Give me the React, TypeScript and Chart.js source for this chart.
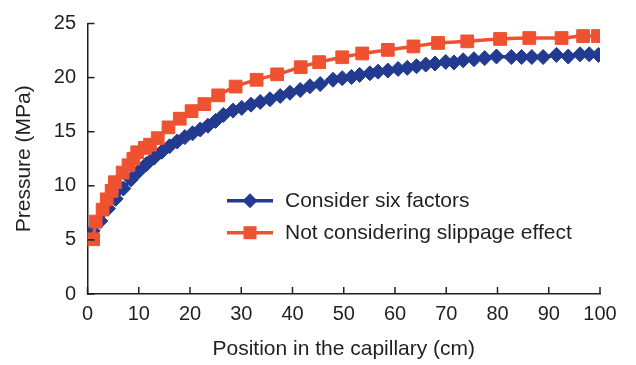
import { useEffect, useRef } from "react";
import { Chart, registerables } from "chart.js";

Chart.register(...registerables);

// Series names
const seriesNames = ["Consider six factors", "Not considering slippage effect"];

// Consider six factors (blue diamonds)
const blueX = [1, 2.5, 4, 5.5, 7, 8.5, 10, 11.5, 13, 14.5, 16, 17.5, 19, 20.5, 22, 23.5, 25, 26.5, 28.4, 30.1, 31.9, 33.7, 35.6, 37.6, 39.5, 41.5, 43.4, 45.4, 47.9, 49.7, 51.5, 53.1, 55.1, 56.7, 58.6, 60.6, 62.4, 64.2, 66.0, 67.8, 69.9, 71.5, 73.3, 75.4, 77.5, 79.8, 82.7, 84.7, 86.7, 88.9, 91.5, 93.8, 96.1, 97.9, 99.7];
const blueY = [5.85, 6.75, 7.9, 8.8, 9.75, 10.6, 11.35, 12.0, 12.6, 13.15, 13.65, 14.1, 14.5, 14.85, 15.2, 15.55, 16.0, 16.55, 16.95, 17.2, 17.5, 17.75, 18.0, 18.3, 18.6, 18.85, 19.2, 19.4, 19.8, 19.95, 20.05, 20.25, 20.4, 20.55, 20.65, 20.8, 20.9, 21.05, 21.2, 21.3, 21.45, 21.4, 21.6, 21.7, 21.8, 21.95, 21.9, 21.9, 21.9, 21.9, 22.1, 21.95, 22.15, 22.15, 22.1];

// Not considering slippage effect (red squares)
const redX = [1.1, 1.6, 2.95, 3.75, 4.7, 5.35, 6.85, 8.0, 8.95, 9.7, 11.2, 12.2, 13.7, 15.8, 18.0, 20.3, 22.8, 25.5, 28.9, 33.0, 37.0, 41.6, 45.2, 49.7, 53.6, 58.6, 63.6, 68.4, 74.1, 80.5, 86.2, 92.5, 96.7, 99.6];
const redY = [5.06, 6.7, 7.8, 8.75, 9.53, 10.33, 11.22, 11.9, 12.5, 13.1, 13.5, 13.8, 14.4, 15.4, 16.2, 16.9, 17.55, 18.36, 19.17, 19.8, 20.3, 20.96, 21.43, 21.88, 22.23, 22.56, 22.88, 23.2, 23.35, 23.57, 23.66, 23.66, 23.84, 23.84];

// Tick values
const xTicks = [0, 10, 20, 30, 40, 50, 60, 70, 80, 90, 100];
const yTicks = [0, 5, 10, 15, 20, 25];

const xTitle = "Position in the capillary (cm)";
const yTitle = "Pressure (MPa)";

const BLUE = "#223a8f";
const RED = "#ef5230";
const AXIS = "#231f20";
const TEXT = "#231f20";
const FONT = "'Liberation Sans', Arial, Helvetica, sans-serif";

function drawDiamond(ctx: CanvasRenderingContext2D, x: number, y: number, r: number) {
  ctx.beginPath();
  ctx.moveTo(x, y - r);
  ctx.lineTo(x + r, y);
  ctx.lineTo(x, y + r);
  ctx.lineTo(x - r, y);
  ctx.closePath();
  ctx.fill();
}

const overlayPlugin = {
  id: "overlay",
  afterDraw(chart: any) {
    const { ctx, chartArea, scales } = chart;
    ctx.save();
    // inward tick marks
    ctx.strokeStyle = AXIS;
    ctx.lineWidth = 1.5;
    xTicks.forEach((v) => {
      const px = scales.x.getPixelForValue(v);
      ctx.beginPath();
      ctx.moveTo(px, chartArea.bottom);
      ctx.lineTo(px, chartArea.bottom - 7);
      ctx.stroke();
    });
    yTicks.forEach((v) => {
      const py = scales.y.getPixelForValue(v);
      ctx.beginPath();
      ctx.moveTo(chartArea.left, py);
      ctx.lineTo(chartArea.left + 7, py);
      ctx.stroke();
    });

    // legend
    const items = [
      { name: seriesNames[0], color: BLUE, marker: "diamond", y: 200.7 },
      { name: seriesNames[1], color: RED, marker: "square", y: 232.7 },
    ];
    const lx0 = 227;
    const lx1 = 273;
    const mx = 250;
    const tx = 285;
    ctx.font = `21px ${FONT}`;
    ctx.textBaseline = "middle";
    ctx.textAlign = "left";
    items.forEach((it) => {
      ctx.strokeStyle = it.color;
      ctx.fillStyle = it.color;
      ctx.lineWidth = 3.5;
      ctx.beginPath();
      ctx.moveTo(lx0, it.y);
      ctx.lineTo(lx1, it.y);
      ctx.stroke();
      if (it.marker === "diamond") {
        drawDiamond(ctx, mx, it.y, 7.5);
      } else {
        ctx.fillRect(mx - 6.5, it.y - 6.5, 13, 13);
      }
      ctx.fillStyle = TEXT;
      ctx.fillText(it.name, tx, it.y + 1);
    });
    ctx.restore();
  },
};

export default function App() {
  const ref = useRef<HTMLCanvasElement | null>(null);

  useEffect(() => {
    if (!ref.current) return;
    const chart = new Chart(ref.current, {
      type: "line",
      data: {
        datasets: [
          {
            label: seriesNames[0],
            data: blueX.map((x, i) => ({ x, y: blueY[i] })),
            borderColor: BLUE,
            backgroundColor: BLUE,
            borderWidth: 3.5,
            pointStyle: "rectRot",
            pointRadius: 7.5,
            pointBorderWidth: 1,
            pointBorderColor: BLUE,
            pointBackgroundColor: BLUE,
            cubicInterpolationMode: "monotone",
            order: 2,
          },
          {
            label: seriesNames[1],
            data: redX.map((x, i) => ({ x, y: redY[i] })),
            borderColor: RED,
            backgroundColor: RED,
            borderWidth: 3.5,
            pointStyle: "rect",
            pointRadius: 9,
            pointBorderWidth: 1,
            pointBorderColor: RED,
            pointBackgroundColor: RED,
            cubicInterpolationMode: "monotone",
            order: 1,
          },
        ],
      },
      options: {
        animation: false,
        responsive: false,
        maintainAspectRatio: false,
        layout: { padding: { top: 14, right: 36, left: 0, bottom: 0 } },
        plugins: {
          legend: { display: false },
          tooltip: { enabled: false },
        },
        scales: {
          x: {
            type: "linear",
            min: 0,
            max: 100,
            afterFit: (s: any) => {
              s.height = 71;
            },
            afterBuildTicks: (s: any) => {
              s.ticks = xTicks.map((v) => ({ value: v }));
            },
            grid: { display: false, drawTicks: false },
            border: { display: true, color: AXIS, width: 1.5 },
            ticks: {
              color: TEXT,
              padding: 8,
              maxRotation: 0,
              autoSkip: false,
              font: { family: FONT, size: 20 },
            },
            title: {
              display: true,
              text: xTitle,
              color: TEXT,
              padding: { top: 0, bottom: 3 },
              font: { family: FONT, size: 21 },
            },
          },
          y: {
            type: "linear",
            min: 0,
            max: 25,
            afterFit: (s: any) => {
              s.width = 87.5;
            },
            afterBuildTicks: (s: any) => {
              s.ticks = yTicks.map((v) => ({ value: v }));
            },
            grid: { display: false, drawTicks: false },
            border: { display: true, color: AXIS, width: 1.5 },
            ticks: {
              color: TEXT,
              padding: 11.5,
              autoSkip: false,
              font: { family: FONT, size: 20 },
            },
            title: {
              display: true,
              text: yTitle,
              color: TEXT,
              padding: { top: 12, bottom: 0 },
              font: { family: FONT, size: 21 },
            },
          },
        },
      },
      plugins: [overlayPlugin],
    } as any);
    return () => chart.destroy();
  }, []);

  return (
    <div style={{ position: "fixed", left: 0, top: 0, width: 636, height: 365, background: "#fff" }}>
      <canvas ref={ref} width={636} height={365} style={{ width: 636, height: 365 }} />
    </div>
  );
}
